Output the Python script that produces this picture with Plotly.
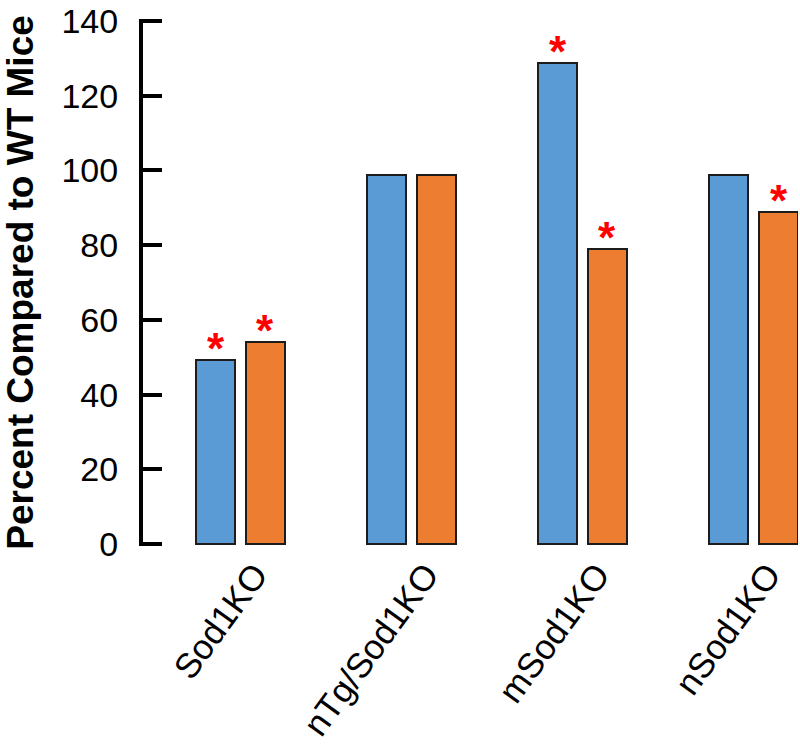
import plotly.graph_objects as go

categories = ["Sod1KO", "nTg/Sod1KO", "mSod1KO", "nSod1KO"]
series_a = [49.2, 98.8, 128.6, 98.8]
series_b = [54.0, 98.8, 78.9, 88.9]
stars_a = [True, False, True, False]
stars_b = [True, False, True, True]
y_ticks = [0, 20, 40, 60, 80, 100, 120, 140]

pos = list(range(len(categories)))
BW = 0.228
OFF_A = -0.263
OFF_B = 0.029

fig = go.Figure()
fig.add_trace(go.Bar(x=pos, y=series_a, width=BW, offset=OFF_A,
                     marker=dict(color="#5B9BD5", line=dict(color="#1c1c1c", width=2)),
                     showlegend=False, cliponaxis=False))
fig.add_trace(go.Bar(x=pos, y=series_b, width=BW, offset=OFF_B,
                     marker=dict(color="#ED7D31", line=dict(color="#1c1c1c", width=2)),
                     showlegend=False, cliponaxis=False))

for i in pos:
    for vals, flags, off in ((series_a, stars_a, OFF_A), (series_b, stars_b, OFF_B)):
        if flags[i]:
            fig.add_annotation(x=i + off + BW / 2, y=vals[i], text="<b>*</b>",
                               showarrow=False, yanchor="bottom", yshift=-15,
                               font=dict(size=44, color="#FF0000",
                                         family="Liberation Sans, Arial, sans-serif"))

fig.update_layout(
    width=800, height=752,
    margin=dict(l=143, r=2, t=19, b=206),
    plot_bgcolor="white", paper_bgcolor="white",
    font=dict(family="Liberation Sans, Arial, sans-serif", color="black"),
    bargap=0,
)
fig.update_xaxes(range=[-0.573, 3.257], tickvals=pos, ticktext=categories,
                 tickangle=-54, ticks="", showline=False, showgrid=False,
                 zeroline=False, tickfont=dict(size=35), automargin=False,
                 ticklabeloverflow="allow", ticklabelshift=14)
fig.update_yaxes(range=[-0.5, 140.5], tickvals=y_ticks, showline=True, linewidth=4,
                 linecolor="black", ticks="inside", ticklen=19, tickwidth=4,
                 tickcolor="black", showgrid=False, zeroline=False,
                 tickfont=dict(size=34), ticklabelstandoff=14, automargin=False,
                 ticklabeloverflow="allow",
                 title=dict(text="<b>Percent Compared to WT Mice</b>",
                            font=dict(size=37), standoff=18))

fig.write_html("out.html", post_script="document.body.style.margin='0';",
               config={"displayModeBar": False})
